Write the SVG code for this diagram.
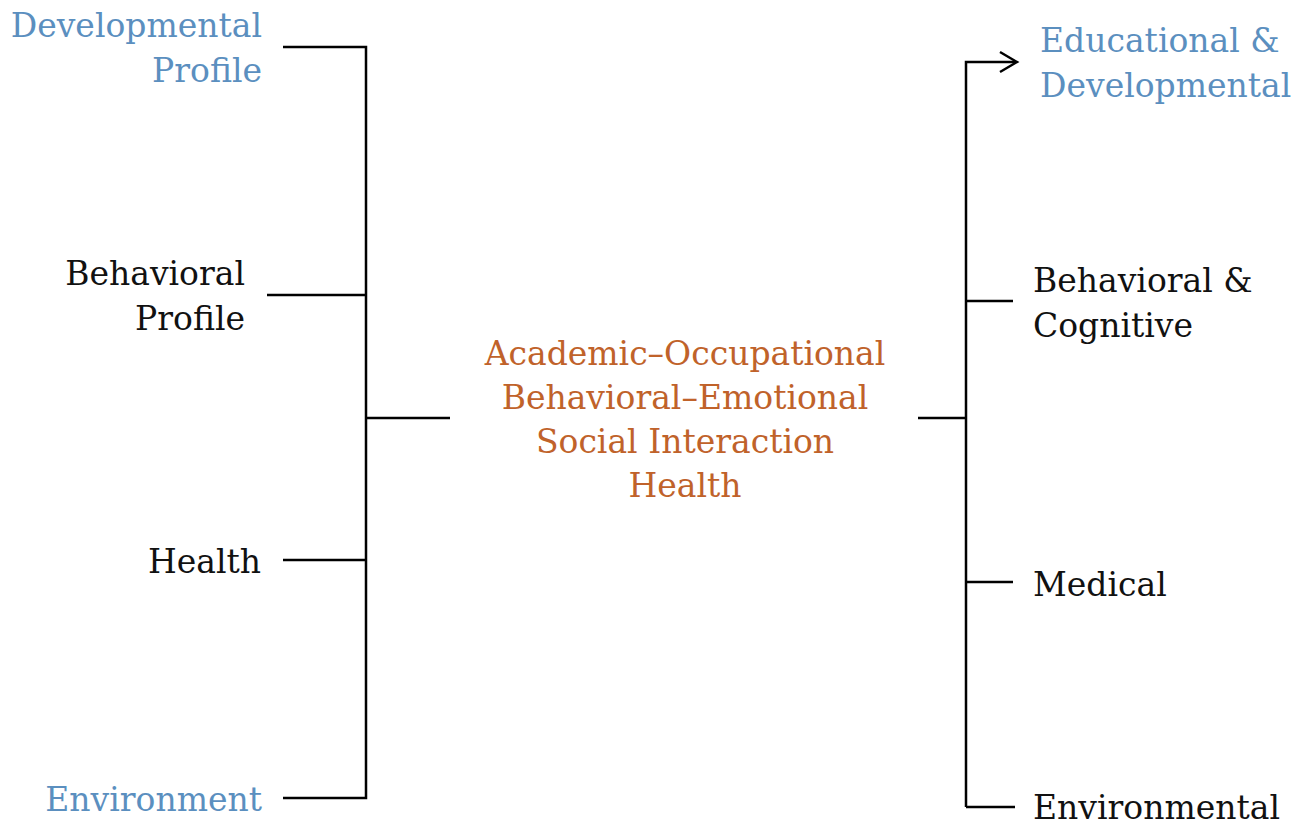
<svg xmlns="http://www.w3.org/2000/svg" width="1297" height="825" viewBox="0 0 1297 825">
  <style>
    text { font-family: "DejaVu Serif", "Liberation Serif", serif; font-size: 33px; }
    .blue { fill: #5b8fbf; }
    .black { fill: #111111; }
    .orange { fill: #c0622a; }
    .end { text-anchor: end; }
    .mid { text-anchor: middle; }
    .wire { fill: none; stroke: #000; stroke-width: 2.5; }
  </style>
  <rect width="1297" height="825" fill="#fff"/>

  <g id="connectors">
    <!-- left bracket -->
    <path class="wire" d="M283,47 H366 V798 H283"/>
    <path class="wire" d="M267,295 H366"/>
    <path class="wire" d="M283,560 H366"/>
    <path class="wire" d="M366,418 H450"/>
    <!-- right bracket -->
    <path class="wire" d="M918,418 H966"/>
    <path class="wire" d="M966,807 V62 H1016"/>
    <path d="M1000,52 L1017,62 L1000,72" fill="none" stroke="#000" stroke-width="2.5"/>
    <path class="wire" d="M966,301 H1013"/>
    <path class="wire" d="M966,582 H1013"/>
    <path class="wire" d="M966,807 H1015"/>
  </g>

  <g id="developmental-profile">
    <text class="blue end" x="262" y="37">Developmental</text>
    <text class="blue end" x="262" y="82">Profile</text>
  </g>
  <g id="behavioral-profile">
    <text class="black end" x="245" y="285">Behavioral</text>
    <text class="black end" x="245" y="330">Profile</text>
  </g>
  <g id="health">
    <text class="black end" x="261" y="573">Health</text>
  </g>
  <g id="environment">
    <text class="blue end" x="262" y="811">Environment</text>
  </g>

  <g id="outcomes">
    <text class="orange mid" x="685" y="365">Academic–Occupational</text>
    <text class="orange mid" x="685" y="409">Behavioral–Emotional</text>
    <text class="orange mid" x="685" y="453">Social Interaction</text>
    <text class="orange mid" x="685" y="497">Health</text>
  </g>

  <g id="educational-developmental">
    <text class="blue" x="1040" y="52">Educational &amp;</text>
    <text class="blue" x="1040" y="97">Developmental</text>
  </g>
  <g id="behavioral-cognitive">
    <text class="black" x="1033" y="292">Behavioral &amp;</text>
    <text class="black" x="1033" y="337">Cognitive</text>
  </g>
  <g id="medical">
    <text class="black" x="1033" y="596">Medical</text>
  </g>
  <g id="environmental">
    <text class="black" x="1033" y="819">Environmental</text>
  </g>
</svg>
